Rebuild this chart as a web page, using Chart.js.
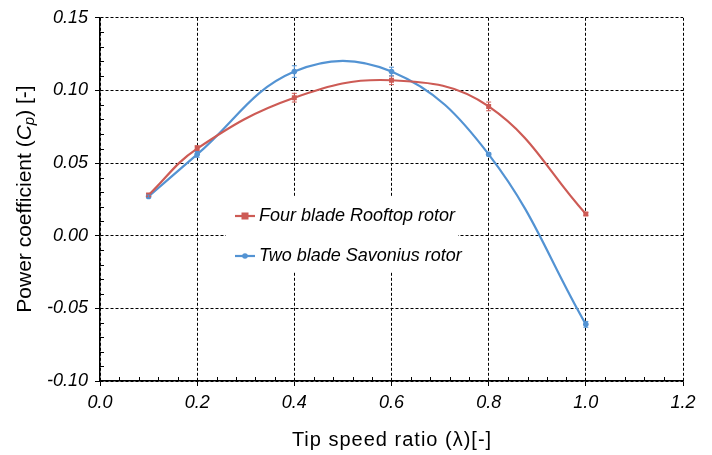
<!DOCTYPE html>
<html>
<head>
<meta charset="utf-8">
<script src="https://cdn.jsdelivr.net/npm/chart.js@4"></script>
<style>
  html, body { margin: 0; padding: 0; background: #fff; }
  #wrap { width: 712px; height: 455px; }
</style>
</head>
<body>
<div id="wrap"><canvas id="cpChart" width="712" height="455"></canvas></div>
<script>
// data
var tsr = [0.1, 0.2, 0.4, 0.6, 0.8, 1.0];
var fourBlade = [0.028, 0.060, 0.095, 0.107, 0.089, 0.015];
var fourBladeErr = [0.001, 0.002, 0.003, 0.003, 0.003, 0.001];
var twoBlade = [0.027, 0.056, 0.113, 0.113, 0.056, -0.061];
var twoBladeErr = [0.001, 0.002, 0.004, 0.003, 0.001, 0.002];
var seriesNames = ['Four blade Rooftop rotor', 'Two blade Savonius rotor'];

var RED = '#CD5B55';
var BLUE = '#5393D3';
var FONT = '"Liberation Sans", Arial, sans-serif';

function toPoints(xs, ys) {
    return xs.map(function(x, i) { return { x: x, y: ys[i] }; });
}

// small minor ticks pointing into the plot
var minorTicks = {
    id: 'minorTicks',
    afterDraw: function(chart) {
        var ctx = chart.ctx, xs = chart.scales.x, ys = chart.scales.y;
        ctx.save();
        ctx.strokeStyle = '#000';
        ctx.lineWidth = 1;
        ctx.beginPath();
        for (var i = 1; i < 30; i++) {
            if (i % 5 === 0) continue;
            var px = Math.round(xs.getPixelForValue(i * 0.04)) + 0.5;
            ctx.moveTo(px, xs.top);
            ctx.lineTo(px, xs.top - 4);
        }
        for (var j = 1; j < 25; j++) {
            if (j % 5 === 0) continue;
            var py = Math.round(ys.getPixelForValue(-0.1 + j * 0.01)) + 0.5;
            ctx.moveTo(ys.right, py);
            ctx.lineTo(ys.right + 4, py);
        }
        ctx.stroke();
        ctx.restore();
    }
};

// error bars from the err arrays
var errorBars = {
    id: 'errorBars',
    afterDatasetsDraw: function(chart) {
        var ctx = chart.ctx, xs = chart.scales.x, ys = chart.scales.y;
        var sets = [[fourBlade, fourBladeErr, RED], [twoBlade, twoBladeErr, BLUE]];
        ctx.save();
        ctx.lineWidth = 1;
        sets.forEach(function(s) {
            ctx.strokeStyle = s[2];
            ctx.beginPath();
            tsr.forEach(function(x, i) {
                var px = xs.getPixelForValue(x);
                var y1 = ys.getPixelForValue(s[0][i] + s[1][i]);
                var y2 = ys.getPixelForValue(s[0][i] - s[1][i]);
                ctx.moveTo(px, y1); ctx.lineTo(px, y2);
                ctx.moveTo(px - 2.5, y1); ctx.lineTo(px + 2.5, y1);
                ctx.moveTo(px - 2.5, y2); ctx.lineTo(px + 2.5, y2);
            });
            ctx.stroke();
        });
        ctx.restore();
    }
};

// legend box inside the plot + axis titles (subscript, letter spacing)
var extras = {
    id: 'extras',
    afterDraw: function(chart) {
        var ctx = chart.ctx;
        ctx.save();
        ctx.fillStyle = '#fff';
        ctx.fillRect(226, 197, 232, 74);

        var rows = [[RED, 'rect', 216], [BLUE, 'circle', 256]];
        rows.forEach(function(r, i) {
            ctx.strokeStyle = r[0];
            ctx.fillStyle = r[0];
            ctx.lineWidth = 2.2;
            ctx.beginPath();
            ctx.moveTo(235, r[2]); ctx.lineTo(255, r[2]);
            ctx.stroke();
            if (r[1] === 'rect') {
                ctx.fillRect(241.5, r[2] - 3.5, 7, 7);
            } else {
                ctx.beginPath();
                ctx.arc(245, r[2], 2.8, 0, Math.PI * 2);
                ctx.fill();
            }
            ctx.fillStyle = '#000';
            ctx.font = 'italic 18px ' + FONT;
            ctx.textBaseline = 'middle';
            ctx.textAlign = 'left';
            ctx.fillText(seriesNames[i], 259, r[2]);
        });

        // x axis title
        ctx.fillStyle = '#000';
        ctx.font = '20px ' + FONT;
        ctx.letterSpacing = '1px';
        ctx.textAlign = 'center';
        ctx.textBaseline = 'middle';
        ctx.fillText('Tip speed ratio (\u03bb)[-]', 392, 440);
        ctx.letterSpacing = '0px';

        // y axis title
        var parts = [
            ['Power coefficient (', '21px ' + FONT, 0],
            ['C', 'italic 21px ' + FONT, 0],
            ['p', 'italic 15px ' + FONT, 5],
            [') [-]', '21px ' + FONT, 0]
        ];
        var total = 0;
        parts.forEach(function(p) { ctx.font = p[1]; total += ctx.measureText(p[0]).width; });
        ctx.translate(25, 199);
        ctx.rotate(-Math.PI / 2);
        ctx.textAlign = 'left';
        var cx = -total / 2;
        parts.forEach(function(p) {
            ctx.font = p[1];
            ctx.fillText(p[0], cx, p[2]);
            cx += ctx.measureText(p[0]).width;
        });
        ctx.restore();
    }
};

var ctx = document.getElementById('cpChart').getContext('2d');
var cpChart = new Chart(ctx, {
    type: 'line',
    data: {
        datasets: [{
            label: seriesNames[0],
            data: toPoints(tsr, fourBlade),
            borderColor: RED,
            backgroundColor: RED,
            borderWidth: 2.2,
            pointStyle: 'rect',
            pointRadius: 3.5,
            pointBorderWidth: 0,
            tension: 0.4
        }, {
            label: seriesNames[1],
            data: toPoints(tsr, twoBlade),
            borderColor: BLUE,
            backgroundColor: BLUE,
            borderWidth: 2.2,
            pointStyle: 'circle',
            pointRadius: 2.8,
            pointBorderWidth: 0,
            tension: 0.4
        }]
    },
    options: {
        responsive: false,
        animation: false,
        devicePixelRatio: 1,
        layout: { padding: { left: 0, top: 15, right: 29, bottom: 0 } },
        plugins: {
            legend: { display: false },
            tooltip: { enabled: false }
        },
        scales: {
            x: {
                type: 'linear',
                min: 0, max: 1.2,
                afterFit: function(scale) { scale.height = 74; },
                ticks: {
                    stepSize: 0.2,
                    padding: 6,
                    color: '#000',
                    font: { family: FONT, size: 18, style: 'italic' },
                    callback: function(v) { return v.toFixed(1); }
                },
                grid: { color: '#000', lineWidth: 1, tickLength: 5, tickColor: '#000' },
                border: { display: true, color: '#000', width: 1.5, dash: [3, 2] }
            },
            y: {
                min: -0.1, max: 0.15,
                afterFit: function(scale) { scale.width = 100; },
                ticks: {
                    stepSize: 0.05,
                    padding: 7,
                    color: '#000',
                    font: { family: FONT, size: 18, style: 'italic' },
                    callback: function(v) { return v.toFixed(2); }
                },
                grid: { color: '#000', lineWidth: 1, tickLength: 5, tickColor: '#000' },
                border: { display: true, color: '#000', width: 1.5, dash: [3, 2] }
            }
        }
    },
    plugins: [minorTicks, errorBars, extras]
});
</script>
</body>
</html>
